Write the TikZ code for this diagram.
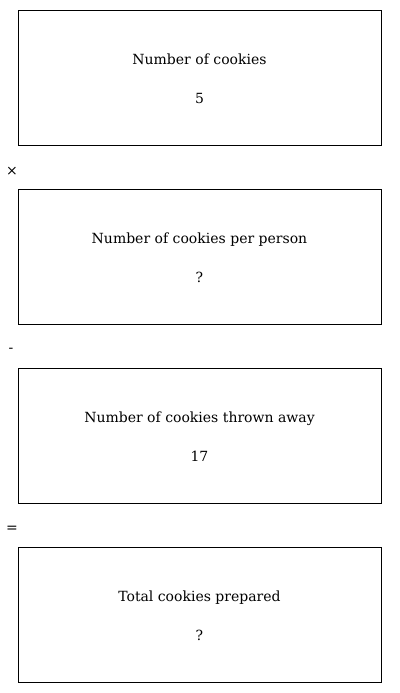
\documentclass[tikz,border=0pt]{standalone}
\usepackage{fontspec}
\setmainfont{DejaVu Serif}
\begin{document}
\begin{tikzpicture}[x=0.75pt,y=-0.75pt,
  box/.style={draw,line width=0.75pt,minimum width=272.25pt,minimum height=101.25pt,inner sep=0pt},
  lbl/.style={font=\fontsize{10.5}{12}\selectfont,inner sep=0pt,anchor=base},
  op/.style={font=\fontsize{10.5}{12}\selectfont,inner sep=0pt}]
\useasboundingbox (0,0) rectangle (400,693);
\node[box] (b1) at (199.5,77.5) {};
\node[lbl] (t1) at (199.5,64) {Number of cookies};
\node[lbl] (v1) at (199.5,103) {5};
\node[op] (o1) at (12,171) {×};
\node[box] (b2) at (199.5,256.5) {};
\node[lbl] (t2) at (199.5,243) {Number of cookies per person};
\node[lbl] (v2) at (199.5,282) {?};
\node[op] (o2) at (11,350) {-};
\node[box] (b3) at (199.5,435.5) {};
\node[lbl] (t3) at (199.5,422) {Number of cookies thrown away};
\node[lbl] (v3) at (199.5,461) {17};
\node[op] (o3) at (12,529) {=};
\node[box] (b4) at (199.5,614.5) {};
\node[lbl] (t4) at (199.5,601) {Total cookies prepared};
\node[lbl] (v4) at (199.5,640) {?};
\end{tikzpicture}
\end{document}
